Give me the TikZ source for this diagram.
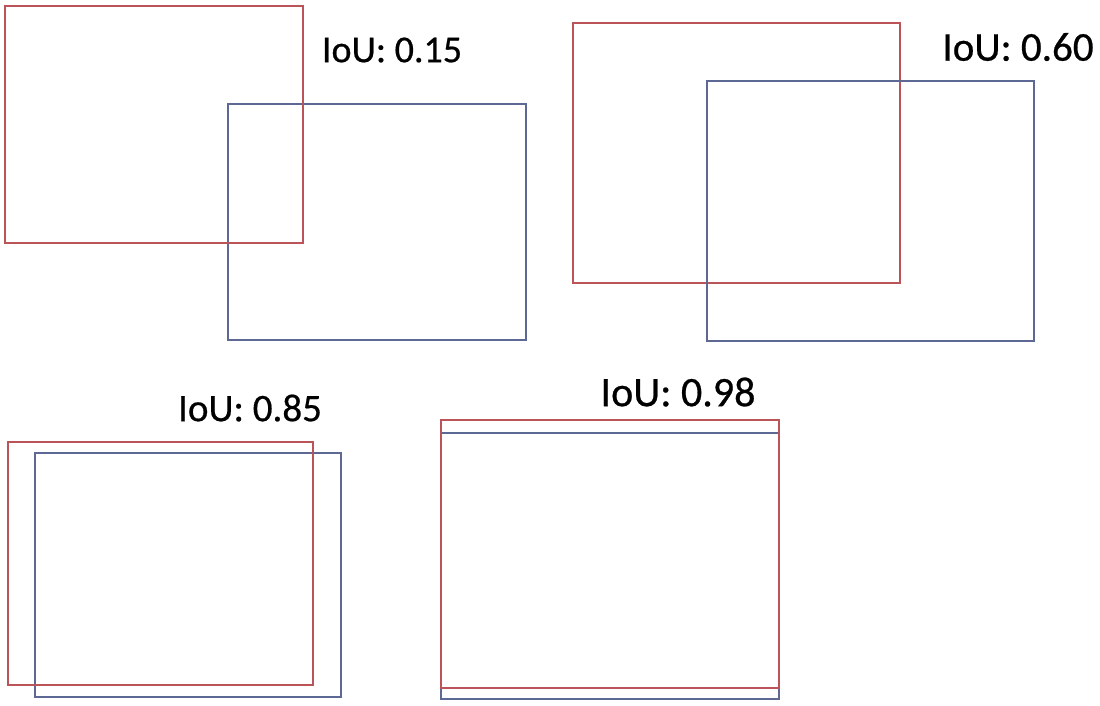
\documentclass[tikz,border=0pt]{standalone}
\usepackage{fontspec}
\setmainfont{Carlito}[FakeBold=0.6]
\definecolor{boxred}{RGB}{186,84,88}
\definecolor{boxblue}{RGB}{94,104,148}
\begin{document}
\begin{tikzpicture}[x=1pt,y=-1pt,
  redbox/.style={draw=boxred,line width=2.6pt},
  bluebox/.style={draw=boxblue,line width=2.6pt},
  lab/.style={inner sep=0pt,text=black}]
\useasboundingbox (0,0) rectangle (1100,705);
% panel 1
\draw[bluebox] (228,104) rectangle (526,340);
\draw[redbox] (5,6) rectangle (303,243);
\node[lab,font=\fontsize{38}{38}\selectfont] (l1) at (392,50) {IoU: 0.15};
% panel 2
\draw[redbox] (573,23) rectangle (900,283);
\draw[bluebox] (707,81) rectangle (1034,341);
\node[lab,font=\fontsize{41}{41}\selectfont] (l2) at (1018,47) {IoU: 0.60};
% panel 3
\draw[bluebox] (35,453) rectangle (341,697);
\draw[redbox] (8,442) rectangle (313,685);
\node[lab,font=\fontsize{39}{39}\selectfont] (l3) at (250,408) {IoU: 0.85};
% panel 4
\draw[bluebox] (441,433) rectangle (779,699);
\draw[redbox] (441,420) rectangle (779,688);
\node[lab,font=\fontsize{42}{42}\selectfont] (l4) at (678,392) {IoU: 0.98};
\end{tikzpicture}
\end{document}
